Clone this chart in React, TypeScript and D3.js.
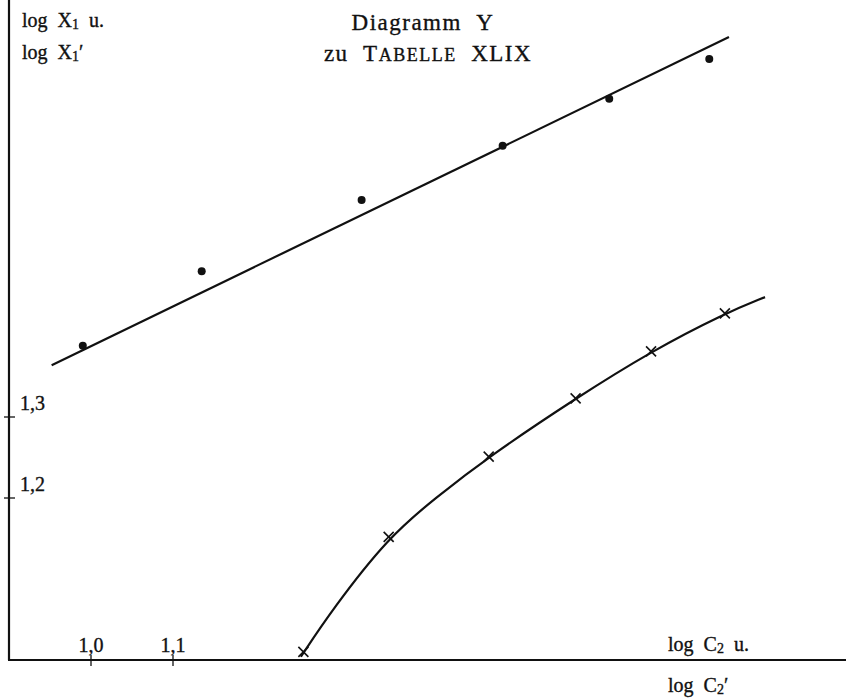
import React from "react";
import * as d3 from "d3";

// log C2 / log X1
const DOT_X = [0.99, 1.135, 1.33, 1.502, 1.632, 1.754];
const DOT_Y = [1.388, 1.48, 1.568, 1.635, 1.693, 1.742];

// fitted straight line (ends)
const LINE_X = [0.952, 1.778];
const LINE_Y = [1.364, 1.769];

// crosses (primed values)
const CROSS_X = [1.259, 1.363, 1.485, 1.591, 1.683, 1.773];
const CROSS_Y = [1.01, 1.152, 1.251, 1.323, 1.381, 1.428];

// drawn curve through the crosses
const CURVE_X = [1.256, 1.294, 1.363, 1.42, 1.485, 1.591, 1.683, 1.773, 1.822];
const CURVE_Y = [1.004, 1.062, 1.152, 1.2, 1.251, 1.323, 1.381, 1.428, 1.448];

const X_TICKS = [1.0, 1.1];
const Y_TICKS = [1.2, 1.3];
const X_MIN = 0.9;
const Y_MIN = 1.0;

const W = 846;
const H = 699;
const FONT = "'Liberation Serif', 'DejaVu Serif', serif";

const fmt = d3
  .formatLocale({ decimal: ",", thousands: ".", grouping: [3], currency: ["", ""] })
  .format(".1f");

export default function App() {
  const x = d3.scaleLinear().domain([1.0, 1.1]).range([91, 173]);
  const y = d3.scaleLinear().domain([1.2, 1.3]).range([498, 417]);

  const x0 = x(X_MIN);
  const y0 = y(Y_MIN);

  const fitLine = d3.line<number>()
    .x((d) => x(LINE_X[d]))
    .y((d) => y(LINE_Y[d]));

  const curve = d3.line<number>()
    .x((d) => x(CURVE_X[d]))
    .y((d) => y(CURVE_Y[d]))
    .curve(d3.curveBasis);

  const stroke = "#111";
  const txt = { fill: stroke, stroke: stroke, strokeWidth: 0.35 };

  return (
    <svg
      width={W}
      height={H}
      style={{ position: "absolute", left: 0, top: 0, background: "#fff" }}
      fontFamily={FONT}
    >
      {/* axes */}
      <line x1={x0} x2={x0} y1={0} y2={y0} stroke={stroke} strokeWidth={2.2} />
      <line x1={x0 - 1} x2={W} y1={y0} y2={y0} stroke={stroke} strokeWidth={2.2} />

      {Y_TICKS.map((t) => (
        <g key={"y" + t}>
          <line x1={x0 - 5} x2={x0 + 6} y1={y(t)} y2={y(t)} stroke={stroke} strokeWidth={1.3} />
          <text x={x0 + 11} y={y(t) - 7} fontSize={20} {...txt}>{fmt(t)}</text>
        </g>
      ))}
      {X_TICKS.map((t) => (
        <g key={"x" + t}>
          <line x1={x(t)} x2={x(t)} y1={y0 - 5} y2={y0 + 6} stroke={stroke} strokeWidth={1.3} />
          <text x={x(t)} y={y0 - 8} fontSize={20} textAnchor="middle" {...txt}>{fmt(t)}</text>
        </g>
      ))}

      {/* axis titles */}
      <text x={22} y={27} fontSize={20} {...txt}>
        log&#160;&#160;X<tspan fontSize={14} dy={2}>1</tspan><tspan dy={-2}>&#160;&#160;u.</tspan>
      </text>
      <text x={22} y={59} fontSize={20} {...txt}>
        log&#160;&#160;X<tspan fontSize={14} dy={2}>1</tspan><tspan dy={-2}>′</tspan>
      </text>
      <text x={668} y={651} fontSize={20} {...txt}>
        log&#160;&#160;C<tspan fontSize={14} dy={2}>2</tspan><tspan dy={-2}>&#160;&#160;u.</tspan>
      </text>
      <text x={668} y={692} fontSize={20} {...txt}>
        log&#160;&#160;C<tspan fontSize={14} dy={2}>2</tspan><tspan dy={-2}>′</tspan>
      </text>

      {/* title */}
      <text x={423} y={30} fontSize={23} textAnchor="middle" letterSpacing={1.5} {...txt}>
        Diagramm&#160;&#160;Y
      </text>
      <text x={428} y={61} fontSize={23} textAnchor="middle" letterSpacing={1.5} {...txt}>
        zu&#160;&#160;T<tspan fontSize={18}>ABELLE</tspan>&#160;&#160;XLIX
      </text>

      {/* straight line and dots */}
      <path d={fitLine(d3.range(LINE_X.length)) || ""} fill="none" stroke={stroke} strokeWidth={2.2} />
      {DOT_X.map((d, i) => (
        <circle key={"d" + i} cx={x(d)} cy={y(DOT_Y[i])} r={4} fill={stroke} />
      ))}

      {/* curve and crosses */}
      <path d={curve(d3.range(CURVE_X.length)) || ""} fill="none" stroke={stroke} strokeWidth={2.2} />
      {CROSS_X.map((d, i) => {
        const cx = x(d);
        const cy = y(CROSS_Y[i]);
        const s = 5;
        return (
          <g key={"c" + i} stroke={stroke} strokeWidth={1.6}>
            <line x1={cx - s} x2={cx + s} y1={cy - s} y2={cy + s} />
            <line x1={cx - s} x2={cx + s} y1={cy + s} y2={cy - s} />
          </g>
        );
      })}
    </svg>
  );
}
